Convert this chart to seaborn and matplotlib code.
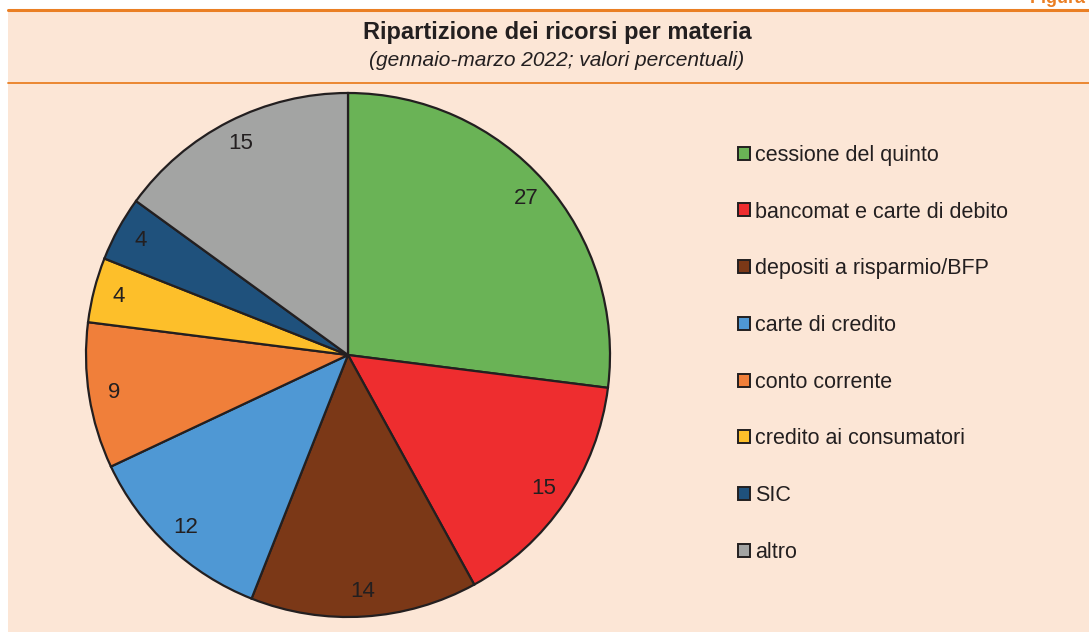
import matplotlib
matplotlib.use("Agg")
import matplotlib.pyplot as plt
import seaborn as sns
from matplotlib.patches import Patch, Rectangle
from matplotlib.lines import Line2D

categories = [
    "cessione del quinto",
    "bancomat e carte di debito",
    "depositi a risparmio/BFP",
    "carte di credito",
    "conto corrente",
    "credito ai consumatori",
    "SIC",
    "altro",
]
values = [27, 15, 14, 12, 9, 4, 4, 15]
colors = ["#6AB356", "#EE2D2F", "#7B3817", "#4F98D4",
          "#F07F3A", "#FDBF2A", "#1F517C", "#A3A4A3"]

sns.set_style("white")
sns.set_palette(colors)
plt.rcParams["font.family"] = ["Liberation Sans", "DejaVu Sans"]

W, H = 1089, 632
fig = plt.figure(figsize=(W / 100, H / 100), dpi=100)
fig.patch.set_facecolor("white")

peach = "#FCE6D6"
orange = "#EA7F24"
fig.add_artist(Rectangle((8 / W, 0), 1 - 8 / W, 1 - 10 / H,
                         transform=fig.transFigure, facecolor=peach,
                         edgecolor="none", zorder=0))
fig.add_artist(Line2D([8 / W, 1], [1 - 10 / H] * 2, transform=fig.transFigure,
                      color=orange, lw=2.2))
fig.add_artist(Line2D([8 / W, 1], [1 - 83 / H] * 2, transform=fig.transFigure,
                      color=orange, lw=1.3))

fig.text(1030 / W, 1 - 3 / H, "Figura 2", color=orange, fontsize=13,
         fontweight="bold", ha="left", va="baseline")
fig.text(557 / W, 1 - 33 / H, "Ripartizione dei ricorsi per materia",
         fontsize=17, fontweight="bold", color="#231F20", ha="center", va="center")
fig.text(557 / W, 1 - 61 / H, "(gennaio-marzo 2022; valori percentuali)",
         fontsize=15, fontstyle="italic", color="#231F20", ha="center", va="center")

cx, cy, r = 348, 355, 262
ax = fig.add_axes([(cx - r) / W, (H - cy - r) / H, 2 * r / W, 2 * r / H])
ax.set_facecolor("none")
wedges, texts = ax.pie(values, colors=sns.color_palette(), startangle=90,
                       counterclock=False, radius=1,
                       labels=[str(v) for v in values], labeldistance=0.905,
                       wedgeprops=dict(edgecolor="#231F20", linewidth=1.6))
for t in texts:
    t.set_ha("center")
    t.set_va("center")
    t.set_fontsize(16)
    t.set_color("#231F20")
ax.set_xlim(-1.0, 1.0)
ax.set_ylim(-1.0, 1.0)
ax.axis("off")

handles = [Patch(facecolor=c, edgecolor="#231F20", linewidth=1.4) for c in colors]
leg = fig.legend(handles, categories, loc="upper left",
                 bbox_to_anchor=(727 / W, 1 - 134 / H), frameon=False,
                 fontsize=15.5, handlelength=0.55, handleheight=0.55,
                 handletextpad=0.25, labelspacing=1.66, borderpad=0)
for t in leg.get_texts():
    t.set_color("#231F20")

fig.savefig("out.png", dpi=100, facecolor=fig.get_facecolor())
